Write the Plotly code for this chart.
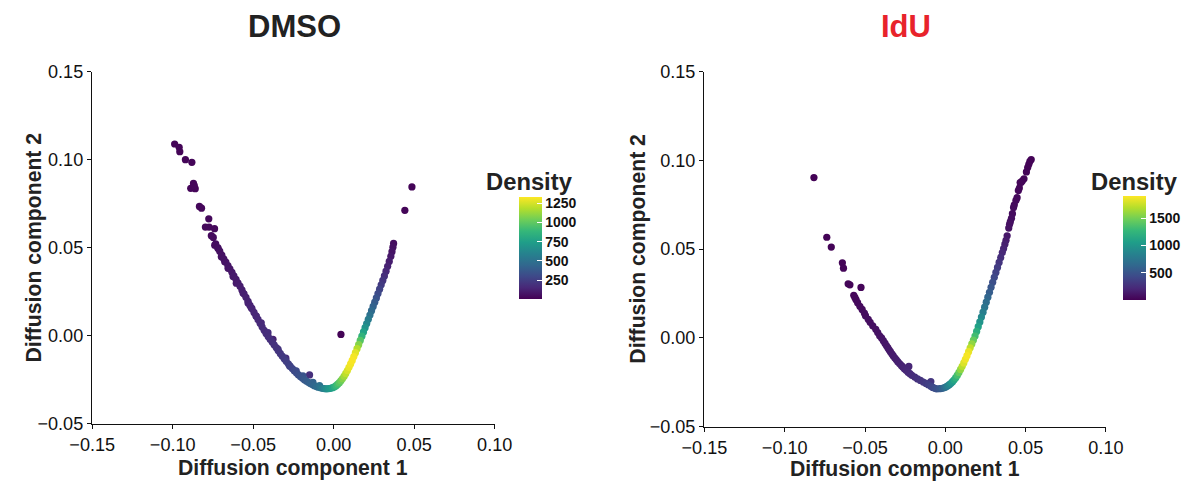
import plotly.graph_objects as go

W, H = 1197, 485
FONT = "Liberation Sans, Arial, Helvetica, sans-serif"

# Layout is specified in screen pixels of the final picture; the page is
# shown slightly inset and reduced, so positions and sizes are converted.
SCALE = 0.967
INSET_X, INSET_Y = 19.7, 7.8

# ---- DMSO cells: diffusion components and local point density ----
dmso_dc1 = [
    -0.0988, -0.0960, -0.0956, -0.0921, -0.0881, -0.0871, -0.0888, -0.0860, -0.0866, -0.0834,
    -0.0821, -0.0776, -0.0797, -0.0774, -0.0740, -0.0760, -0.0748, 0.0442, 0.0486, 0.0045,
    -0.0150, -0.0377, -0.0297,
    -0.0733, -0.0720, -0.0708, -0.0695, -0.0683, -0.0670, -0.0657, -0.0645, -0.0632, -0.0620,
    -0.0607, -0.0595, -0.0582, -0.0570, -0.0557, -0.0545, -0.0532, -0.0520, -0.0507, -0.0495,
    -0.0482, -0.0470, -0.0457, -0.0445, -0.0432, -0.0420, -0.0407, -0.0395, -0.0382, -0.0370,
    -0.0357, -0.0345, -0.0332, -0.0320, -0.0307, -0.0295, -0.0282, -0.0270, -0.0257, -0.0245,
    -0.0232, -0.0220, -0.0207, -0.0195, -0.0182, -0.0170, -0.0157, -0.0145, -0.0132, -0.0120,
    -0.0107, -0.0095, -0.0082, -0.0070, -0.0057, -0.0045, -0.0032, -0.0020, -0.0007, 0.0005,
    0.0015, 0.0025, 0.0035, 0.0045, 0.0055, 0.0065, 0.0075, 0.0085, 0.0095, 0.0105,
    0.0115, 0.0125, 0.0135, 0.0145, 0.0155, 0.0165, 0.0175, 0.0185, 0.0195, 0.0205,
    0.0215, 0.0225, 0.0235, 0.0245, 0.0255, 0.0265, 0.0275, 0.0285, 0.0295, 0.0305,
    0.0315, 0.0325, 0.0335, 0.0345, 0.0355, 0.0362, 0.0368, 0.0372,
    -0.0739, -0.0718, -0.0698, -0.0677, -0.0656, -0.0625, -0.0605, -0.0563, -0.0532, -0.0512,
    -0.0481, -0.0450, -0.0408, -0.0346, -0.0274, -0.0233, -0.0191, -0.0129, -0.0088,
]
dmso_dc2 = [
    0.1089, 0.1070, 0.1045, 0.1000, 0.0985, 0.0865, 0.0837, 0.0835, 0.0852, 0.0734,
    0.0724, 0.0664, 0.0617, 0.0617, 0.0608, 0.0568, 0.0558, 0.0712, 0.0845, 0.0007,
    -0.0223, -0.0021, -0.0128,
    0.0522, 0.0500, 0.0480, 0.0458, 0.0437, 0.0418, 0.0398, 0.0380, 0.0360, 0.0340,
    0.0320, 0.0300, 0.0281, 0.0260, 0.0238, 0.0218, 0.0195, 0.0172, 0.0153, 0.0132,
    0.0112, 0.0092, 0.0070, 0.0050, 0.0030, 0.0012, -0.0005, -0.0020, -0.0036, -0.0052,
    -0.0068, -0.0085, -0.0101, -0.0116, -0.0131, -0.0146, -0.0160, -0.0174, -0.0187, -0.0199,
    -0.0211, -0.0222, -0.0232, -0.0241, -0.0250, -0.0258, -0.0265, -0.0272, -0.0278, -0.0284,
    -0.0289, -0.0293, -0.0296, -0.0299, -0.0301, -0.0302, -0.0301, -0.0299, -0.0296, -0.0291,
    -0.0284, -0.0276, -0.0267, -0.0256, -0.0244, -0.0230, -0.0215, -0.0198, -0.0180, -0.0161,
    -0.0141, -0.0119, -0.0097, -0.0074, -0.0051, -0.0027, -0.0003, 0.0021, 0.0045, 0.0069,
    0.0093, 0.0117, 0.0142, 0.0166, 0.0190, 0.0214, 0.0239, 0.0264, 0.0289, 0.0314,
    0.0339, 0.0366, 0.0394, 0.0422, 0.0451, 0.0477, 0.0503, 0.0524,
    0.0514, 0.0495, 0.0448, 0.0420, 0.0383, 0.0336, 0.0298, 0.0242, 0.0186, 0.0158,
    0.0110, 0.0073, 0.0017, -0.0077, -0.0172, -0.0200, -0.0228, -0.0265, -0.0284,
]
dmso_density = [
    12, 14, 14, 16, 15, 18, 20, 20, 20, 24,
    24, 28, 30, 30, 30, 35, 38, 15, 12, 10,
    180, 120, 170,
    45, 50, 55, 60, 65, 70, 75, 80, 85, 90,
    95, 100, 105, 110, 115, 120, 125, 130, 135, 140,
    145, 150, 155, 160, 165, 170, 175, 180, 185, 190,
    195, 200, 210, 220, 230, 240, 250, 260, 275, 290,
    305, 320, 335, 350, 365, 380, 395, 410, 425, 440,
    460, 480, 510, 550, 600, 650, 690, 720, 760, 820,
    880, 930, 980, 1030, 1080, 1140, 1200, 1250, 1290, 1310,
    1320, 1310, 1270, 1180, 1080, 970, 860, 760, 680, 610,
    550, 500, 455, 415, 380, 340, 300, 265, 230, 200,
    175, 150, 125, 105, 85, 70, 55, 45,
    45, 50, 58, 62, 72, 85, 92, 110, 122, 130,
    142, 152, 170, 195, 255, 300, 345, 420, 495,
]

# ---- IdU cells ----
idu_dc1 = [
    -0.0818, -0.0738, -0.0710, -0.0641, -0.0634, -0.0605, -0.0594, -0.0525, -0.0227, -0.0090,
    -0.0570, -0.0563, -0.0556, -0.0546, -0.0532, -0.0518, -0.0504, -0.0497, -0.0480, -0.0468,
    -0.0452, -0.0433, -0.0421, -0.0409, -0.0397, -0.0386, -0.0376, -0.0367, -0.0358, -0.0350,
    -0.0342, -0.0333, -0.0325, -0.0315, -0.0306, -0.0296, -0.0285, -0.0274, -0.0265, -0.0255,
    -0.0244, -0.0232, -0.0220, -0.0208, -0.0190, -0.0173, -0.0155, -0.0137, -0.0120, -0.0106,
    -0.0090, -0.0078, -0.0065, -0.0054, -0.0035, -0.0019, -0.0005, 0.0005, 0.0015, 0.0025,
    0.0035, 0.0045, 0.0055, 0.0065, 0.0075, 0.0085, 0.0095, 0.0105, 0.0115, 0.0125,
    0.0135, 0.0145, 0.0155, 0.0165, 0.0175, 0.0185, 0.0195, 0.0205, 0.0215, 0.0225,
    0.0235, 0.0245, 0.0255, 0.0265, 0.0275, 0.0285, 0.0295, 0.0305, 0.0315, 0.0325,
    0.0335, 0.0345, 0.0355, 0.0363, 0.0371, 0.0378, 0.0385, 0.0395, 0.0400, 0.0405,
    0.0412, 0.0418, 0.0425, 0.0430, 0.0440, 0.0447, 0.0455, 0.0461, 0.0466, 0.0473,
    0.0480, 0.0490, 0.0505, 0.0513, 0.0520, 0.0527, 0.0535,
]
idu_dc2 = [
    0.0903, 0.0567, 0.0512, 0.0423, 0.0393, 0.0305, 0.0299, 0.0284, -0.0161, -0.0246,
    0.0240, 0.0228, 0.0215, 0.0198, 0.0178, 0.0160, 0.0140, 0.0125, 0.0105, 0.0088,
    0.0068, 0.0048, 0.0030, 0.0012, 0.0000, -0.0016, -0.0030, -0.0043, -0.0055, -0.0067,
    -0.0078, -0.0090, -0.0100, -0.0112, -0.0122, -0.0134, -0.0145, -0.0155, -0.0164, -0.0174,
    -0.0183, -0.0193, -0.0202, -0.0211, -0.0221, -0.0231, -0.0240, -0.0249, -0.0257, -0.0264,
    -0.0272, -0.0279, -0.0284, -0.0287, -0.0286, -0.0284, -0.0280, -0.0276, -0.0270, -0.0264,
    -0.0256, -0.0247, -0.0236, -0.0224, -0.0210, -0.0195, -0.0178, -0.0160, -0.0141, -0.0121,
    -0.0100, -0.0078, -0.0056, -0.0034, -0.0012, 0.0010, 0.0036, 0.0063, 0.0090, 0.0117,
    0.0145, 0.0173, 0.0201, 0.0229, 0.0257, 0.0285, 0.0313, 0.0341, 0.0369, 0.0397,
    0.0425, 0.0453, 0.0481, 0.0503, 0.0528, 0.0550, 0.0575, 0.0619, 0.0640, 0.0655,
    0.0674, 0.0700, 0.0735, 0.0750, 0.0775, 0.0790, 0.0830, 0.0845, 0.0875, 0.0877,
    0.0885, 0.0896, 0.0935, 0.0960, 0.0978, 0.0995, 0.1005,
]
idu_density = [
    10, 14, 16, 20, 22, 26, 26, 28, 200, 300,
    35, 38, 40, 45, 50, 55, 60, 62, 68, 72,
    78, 84, 90, 95, 100, 105, 110, 115, 120, 125,
    130, 135, 140, 148, 155, 162, 170, 178, 186, 195,
    205, 215, 225, 238, 252, 268, 285, 305, 330, 355,
    385, 410, 440, 470, 520, 580, 650, 720, 800, 870,
    950, 1030, 1120, 1220, 1330, 1450, 1580, 1700, 1800, 1860,
    1880, 1840, 1720, 1580, 1440, 1310, 1190, 1080, 980, 890,
    810, 740, 680, 620, 560, 510, 460, 415, 370, 330,
    290, 250, 215, 185, 160, 135, 115, 90, 80, 75,
    68, 60, 52, 48, 42, 40, 35, 32, 30, 28,
    26, 24, 22, 20, 18, 16, 15,
]

x_ticks = [-0.15, -0.10, -0.05, 0.00, 0.05, 0.10]
y_ticks = [-0.05, 0.00, 0.05, 0.10, 0.15]
dmso_bar_ticks = [250, 500, 750, 1000, 1250]
idu_bar_ticks = [500, 1000, 1500]


def px_x(p):
    """Screen column -> paper fraction."""
    return (p - INSET_X) / SCALE / W


def px_y(p):
    """Screen row (from top) -> paper fraction."""
    return 1 - (p - INSET_Y) / SCALE / H


def sz(p):
    """Screen pixel length -> figure pixel length."""
    return p / SCALE


def ordered(xs, ys, ds):
    rows = sorted(zip(xs, ys, ds), key=lambda r: r[2])
    return [r[0] for r in rows], [r[1] for r in rows], [r[2] for r in rows]


fig = go.Figure()

for xs, ys, ds, xa, ya, cax in [
    (dmso_dc1, dmso_dc2, dmso_density, "x", "y", "coloraxis"),
    (idu_dc1, idu_dc2, idu_density, "x2", "y2", "coloraxis2"),
]:
    sx, sy, sd = ordered(xs, ys, ds)
    fig.add_trace(go.Scatter(
        x=sx, y=sy, mode="markers", xaxis=xa, yaxis=ya, showlegend=False,
        marker=dict(size=sz(7), color=sd, coloraxis=cax, line=dict(width=0)),
        hoverinfo="skip",
    ))

axis_common = dict(
    showline=True, linecolor="#111111", linewidth=sz(1.4), mirror=False,
    showgrid=False, zeroline=False, ticks="outside", ticklen=sz(4), tickwidth=sz(1.2),
    tickcolor="#111111", tickfont=dict(family=FONT, size=sz(17.5), color="#111111"),
    tickformat=".2f",
)

bar_font = dict(family=FONT, size=sz(13.5), color="#111111", weight="bold")

fig.update_layout(
    width=W, height=H, margin=dict(l=0, r=0, t=0, b=0),
    paper_bgcolor="white", plot_bgcolor="white",
    xaxis=dict(axis_common, domain=[px_x(89), px_x(492)], range=[-0.15, 0.10],
               tickvals=x_ticks, anchor="y"),
    yaxis=dict(axis_common, domain=[px_y(425), px_y(70)], range=[-0.05, 0.15],
               tickvals=y_ticks, anchor="x"),
    xaxis2=dict(axis_common, domain=[px_x(702), px_x(1104)], range=[-0.15, 0.10],
                tickvals=x_ticks, anchor="y2"),
    yaxis2=dict(axis_common, domain=[px_y(428), px_y(70)], range=[-0.05, 0.15],
                tickvals=y_ticks, anchor="x2"),
    coloraxis=dict(
        colorscale="Viridis", cmin=0, cmax=1330,
        colorbar=dict(
            x=px_x(516), xanchor="left", xpad=0, y=px_y(299.5), yanchor="bottom", ypad=0,
            thickness=sz(22), len=sz(98.5), lenmode="pixels", outlinewidth=0,
            tickvals=dmso_bar_ticks, ticks="inside", ticklen=sz(4), tickcolor="white",
            tickfont=bar_font,
        ),
    ),
    coloraxis2=dict(
        colorscale="Viridis", cmin=0, cmax=1900,
        colorbar=dict(
            x=px_x(1121), xanchor="left", xpad=0, y=px_y(300.5), yanchor="bottom", ypad=0,
            thickness=sz(22), len=sz(100.7), lenmode="pixels", outlinewidth=0,
            tickvals=idu_bar_ticks, ticks="inside", ticklen=sz(4), tickcolor="white",
            tickfont=bar_font,
        ),
    ),
)


def label(text, x, y, size, color="#222222", angle=0):
    fig.add_annotation(
        text=text, x=px_x(x), y=px_y(y), xref="paper", yref="paper",
        showarrow=False, xanchor="center", yanchor="middle", textangle=angle,
        font=dict(family=FONT, size=sz(size), color=color, weight="bold"),
    )


label("DMSO", 292, 24, 30)
label("IdU", 904, 24, 30, color="#e8232b")
label("Diffusion component 1", 290, 470, 20.5)
label("Diffusion component 1", 903, 471, 20.5)
label("Diffusion component 2", 31, 247, 20.5, angle=-90)
label("Diffusion component 2", 636, 249, 20.5, angle=-90)
label("Density", 527, 181, 23)
label("Density", 1133, 181, 23)

fig.write_html("out.html")
